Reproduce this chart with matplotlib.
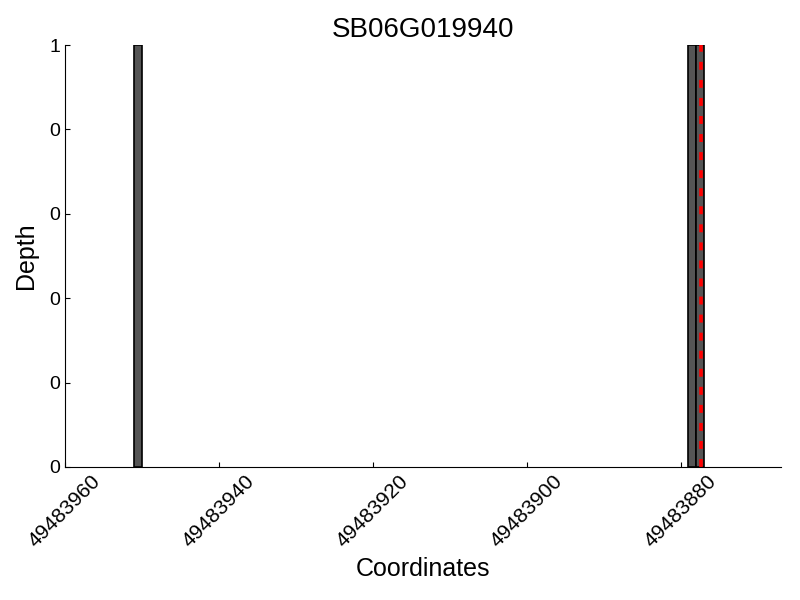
import numpy as np
import matplotlib
matplotlib.use("Agg")
import matplotlib.pyplot as plt

plt.rcParams['font.family'] = ['Liberation Sans', 'DejaVu Sans']

gene = "SB06G019940"
positions = [49483950, 49483878, 49483877]
depth = [1, 1, 1]
marker_pos = 49483877.4
xticks = [49483960, 49483940, 49483920, 49483900, 49483880]
yticks = [0, 0.2, 0.4, 0.6, 0.8, 1.0]

fig = plt.figure(figsize=(8, 6), dpi=100)
ax = fig.add_axes([0.081, 0.2217, 0.895, 0.7033])

ax.bar(positions, depth, width=1, align='edge', color='#555555', edgecolor='black', linewidth=1.2)
ax.axvline(marker_pos, color='red', linestyle=(0, (2.2, 2.8)), linewidth=2.6)

ax.set_xlim(max(positions) + 10, min(positions) - 10)
ax.set_ylim(0, 1)
ax.set_xticks(xticks)
ax.set_xticklabels([str(t) for t in xticks], rotation=45, ha='center', fontsize=15)
ax.set_yticks(yticks)
ax.set_yticklabels(["%d" % t for t in yticks], fontsize=14)
ax.tick_params(direction='in', top=False, right=False)

ax.spines['top'].set_visible(False)
ax.spines['right'].set_visible(False)

ax.set_title(gene, fontsize=20)
ax.set_xlabel("Coordinates", fontsize=18)
ax.set_ylabel("Depth", fontsize=18, labelpad=8)

fig.savefig("out.png", dpi=100)
